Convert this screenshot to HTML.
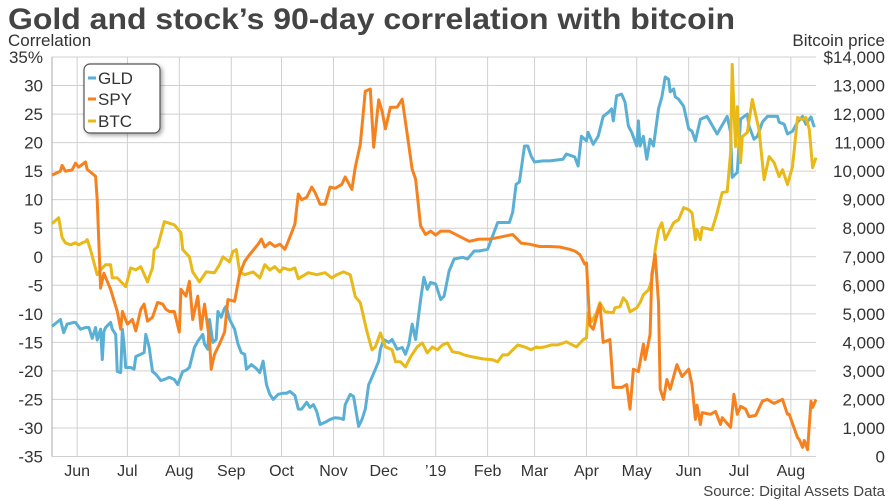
<!DOCTYPE html>
<html><head><meta charset="utf-8"><style>
html,body{margin:0;padding:0;background:#fff}
svg{display:block;font-family:"Liberation Sans",sans-serif}
</style></head><body>
<svg id="chart" width="890" height="501" viewBox="0 0 890 501">
<text x="8" y="29" font-size="30" font-weight="bold" fill="#444" textLength="727" lengthAdjust="spacingAndGlyphs">Gold and stock’s 90-day correlation with bitcoin</text>
<text x="8" y="46" font-size="17" fill="#333">Correlation</text>
<text x="885" y="46" font-size="17" fill="#333" text-anchor="end">Bitcoin price</text>
<text x="885" y="496" font-size="15" fill="#444" text-anchor="end">Source: Digital Assets Data</text>
<g id="grid"></g><g id="axes"></g><g id="series"></g>
<g>
<rect x="84" y="64" width="76" height="69" rx="6" fill="#fff" stroke="#555" stroke-width="1.2" style="filter:drop-shadow(2px 2px 2px rgba(0,0,0,0.35))"/>
<g><line x1="88" y1="78" x2="96" y2="78" stroke="#5aafd4" stroke-width="3"/><text x="98" y="84" font-size="17" fill="#333">GLD</text></g>
<g><line x1="88" y1="99" x2="96" y2="99" stroke="#f5821f" stroke-width="3"/><text x="98" y="105" font-size="17" fill="#333">SPY</text></g>
<g><line x1="88" y1="121" x2="96" y2="121" stroke="#e8b917" stroke-width="3"/><text x="98" y="127" font-size="17" fill="#333">BTC</text></g>
</g>
</svg>
<script>
const leftTicks = [35,30,25,20,15,10,5,0,-5,-10,-15,-20,-25,-30,-35];
const leftTickLabels = ["35%","30","25","20","15","10","5","0","-5","-10","-15","-20","-25","-30","-35"];
const rightTicks = [14000,13000,12000,11000,10000,9000,8000,7000,6000,5000,4000,3000,2000,1000,0];
const rightTickLabels = ["$14,000","13,000","12,000","11,000","10,000","9,000","8,000","7,000","6,000","5,000","4,000","3,000","2,000","1,000","0"];
const monthDays = [15,45,76,107,137,168,198,229,260,288,319,349,380,410,441];
const monthLabels = ["Jun","Jul","Aug","Sep","Oct","Nov","Dec","’19","Feb","Mar","Apr","May","Jun","Jul","Aug"];

const spyDays = [0,5,6,8,12,14,16,20,21,26,27,29,31,35,39,41,42,45,48,50,53,55,57,60,63,66,68,70,73,76,77,80,82,84,87,89,91,94,95,97,100,103,105,109,112,115,118,123,125,127,130,133,136,139,141,145,147,149,152,155,157,160,163,166,169,173,175,179,181,184,187,190,192,195,197,199,202,206,209,212,215,217,220,223,226,229,232,237,243,249,255,261,267,275,280,285,291,297,303,309,312,315,318,319,321,323,327,329,333,335,340,343,345,347,350,353,354,357,358,360,362,363,365,367,369,373,376,380,382,384,385,387,388,393,396,399,400,405,407,409,411,414,416,420,424,427,431,436,439,440,445,446,448,449,451,453,454,456];
const spyValues = [14.3,15,16,15,15.2,16.4,15.7,16.6,15.3,14.1,10,-5.5,-2.9,-5.7,-9.6,-12.7,-9.6,-11.8,-11,-13,-9.2,-8.3,-11.3,-10.6,-8,-8.3,-9.2,-9.6,-9.6,-13.2,-5.7,-6.9,-4.3,-11,-6.9,-12.7,-8.3,-14.5,-19.7,-17.1,-15.3,-13.2,-7.5,-7.8,-3.1,-0.8,0.4,2.2,3.1,1.7,2.5,1.8,2.2,1.3,2.7,5.7,11,10,10.4,12.2,11.3,9.2,9.2,12.2,12,12.7,14,11.8,15.7,19.7,29,29.4,19.2,27.5,25.5,22.4,26.2,26.2,27.6,21.5,15.3,13.6,5.4,3.9,4.5,3.8,4.5,4.5,3.6,2.7,3.1,3.1,3.4,3.9,2.4,2.2,1.8,1.8,1.7,1.3,1,0.4,-1.3,-1.1,-12,-12.7,-8.3,-15,-14.5,-22.9,-22.9,-22.4,-26.7,-19.7,-20.1,-15.3,-18,-13.6,-3.1,0.4,-8,-23.2,-25,-21.5,-23.2,-18.9,-21,-19.7,-22.4,-28.5,-26,-29.4,-27.3,-27.6,-27.1,-29.4,-28.2,-29.9,-24.1,-27.6,-26.2,-26.7,-28,-27.8,-25.3,-25,-25.7,-25,-27.6,-27.6,-31.7,-32,-33.4,-32.2,-33.8,-25.3,-26.4,-25];

const gldDays = [0,5,7,9,13,14,17,20,22,24,26,27,29,30,31,32,35,36,38,39,41,42,43,44,47,49,50,53,55,56,58,60,62,65,67,70,73,75,78,80,82,85,87,90,91,93,94,96,98,99,101,103,104,106,109,111,113,115,116,119,122,124,126,128,130,132,135,138,140,142,145,147,149,152,154,156,158,160,163,166,169,172,174,175,178,180,183,185,187,189,190,193,195,196,198,201,203,206,209,211,213,215,217,220,222,224,226,229,232,234,237,240,245,248,252,255,260,266,273,275,277,279,282,284,286,288,293,297,305,307,312,314,316,319,320,323,326,329,332,334,335,337,340,342,344,346,349,350,351,353,355,357,359,362,364,366,368,369,371,372,374,377,380,382,384,387,391,397,403,405,406,409,411,415,416,419,421,424,427,433,434,437,439,442,445,448,450,453,455];
const gldValues = [-12.2,-11,-13.3,-11.8,-11.5,-11.5,-12.7,-12.4,-12.4,-14.3,-12.4,-14.6,-12.7,-18,-13.1,-12.4,-11.5,-12.7,-13.6,-20.1,-20.3,-12.7,-15.3,-19.4,-19.4,-19.7,-17.5,-17.1,-16.8,-13.6,-15.9,-20.1,-20.6,-21.7,-21.5,-21.1,-21.5,-22.4,-20.1,-19.9,-19.4,-15.9,-14.8,-13.6,-15.3,-16.2,-11,-15,-14.5,-9.6,-10.6,-9,-8.7,-11,-12.7,-15.3,-16.8,-17.1,-19.7,-18.9,-19.6,-20.3,-18.3,-22.4,-24.1,-25,-24.1,-23.9,-23.9,-23.6,-24.3,-26.7,-26.7,-25.5,-26.4,-25.9,-27.1,-29.4,-29,-28.5,-28.2,-28.3,-28.5,-25.9,-24.1,-24.5,-29.7,-28.5,-26.7,-22.4,-21.8,-19.7,-18.3,-16.2,-14.5,-15,-14.5,-16.2,-15.9,-17.1,-15.3,-11.8,-14.5,-7.5,-3.6,-5.7,-4.5,-4.8,-7.5,-6.9,-2.5,-0.4,-0.1,-0.4,1,1,1.3,6,6,7.8,12.7,13.1,19.4,19.4,17.6,16.6,16.8,16.8,17.1,18,17.5,15.9,21.1,20.3,21.8,19.7,21.1,24.6,25.3,25.9,23.8,28.2,28.5,27.1,22.9,21.8,19.4,23.8,19.4,21.1,17.1,20.6,19.4,25.9,28,31.5,31.1,28.9,29.4,28,27.6,26.4,22.4,22,20.3,24.1,24.6,21.5,24.6,21.8,13.9,14.8,24.1,25,22.9,20.6,21.1,23.6,24.6,24.6,23.6,23.2,21.5,22,23.6,24.6,23.2,24.5,22.7];

const btcDays = [0,4,6,8,11,14,16,18,20,21,23,27,29,32,35,36,39,44,47,50,53,57,60,61,63,67,73,77,78,82,84,88,92,97,100,102,106,108,110,112,115,120,124,127,130,133,136,138,142,145,147,153,158,163,167,170,174,178,181,184,188,191,193,196,199,203,205,208,211,214,218,221,224,227,230,233,236,239,243,246,251,257,263,266,269,272,278,282,286,289,291,294,298,302,307,313,317,319,320,322,325,327,330,335,336,339,341,343,345,349,351,353,356,358,360,362,364,366,369,371,374,377,380,382,384,385,387,388,394,397,400,403,405,406,407,408,409,411,412,415,418,421,422,425,428,431,434,436,439,442,445,448,450,452,454,456];
const btcValues = [8160,8370,7670,7490,7420,7490,7420,7490,7530,7600,7250,6370,6540,6720,6720,6260,6260,5950,6610,6540,6650,6120,6610,7250,7350,8230,8120,7840,7250,7000,6470,6120,6470,6440,6720,7000,6820,7180,7250,6470,6370,6470,6260,6720,6540,6650,6470,6610,6540,6610,6230,6440,6370,6440,6260,6370,6470,6370,5600,5390,4370,3740,3840,4330,3840,3740,3320,3320,3140,3490,3840,3980,3630,3840,3740,3910,3980,3670,3630,3560,3490,3420,3390,3320,3560,3560,3910,3840,3740,3840,3810,3840,3910,3910,4020,3840,4090,4160,5040,4720,5040,5390,5070,5040,5210,5250,5560,5420,5070,5210,5390,5670,5840,6190,7250,7950,8190,7600,7950,8190,8300,8720,8650,8540,7600,7950,7600,8020,7950,8540,9250,9280,10650,13740,12160,10860,12260,10300,11210,11350,12510,11700,11460,9700,10510,10300,9810,10050,9530,10160,11880,11810,11880,11460,10120,10470];

const NS = "http://www.w3.org/2000/svg";
const X0 = 52, X1 = 816, Y0 = 57, Y1 = 456.5, DMAX = 456;
function xScale(d){ return X0 + d*(X1-X0)/DMAX; }
function yLeft(v){ return Y1 - (v+35)*(Y1-Y0)/70; }
function yRight(p){ return Y1 - p*(Y1-Y0)/14000; }
function mk(tag, attrs, parent){ const e=document.createElementNS(NS,tag); for(const k in attrs) e.setAttribute(k,attrs[k]); parent.appendChild(e); return e; }

const grid = document.getElementById('grid');
const axes = document.getElementById('axes');
leftTicks.forEach((t,i)=>{
  const y = yLeft(t);
  const gl = mk('line',{x1:X0,x2:X1,y1:y,y2:y,stroke:'#d0d0d0','stroke-width':1},grid);
  
  
  const lt = mk('text',{x:43,y:y+6,'font-size':17,fill:'#333','text-anchor':'end'},axes);
  lt.textContent = leftTickLabels[i];
  
  
});
rightTicks.forEach((t,i)=>{
  const y = yRight(t);
  const rt = mk('text',{x:885,y:y+6,'font-size':17,fill:'#333','text-anchor':'end'},axes);
  rt.textContent = rightTickLabels[i];
  
  
});
monthDays.forEach((d,i)=>{
  const x = xScale(d);
  const vl = mk('line',{x1:x,x2:x,y1:Y0,y2:Y1,stroke:'#d0d0d0','stroke-width':1},grid);
  
  
  const mt = mk('text',{x:x,y:476,'font-size':16,fill:'#333','text-anchor':'middle'},axes);
  mt.textContent = monthLabels[i];
  
  
});
const ax = mk('line',{x1:X0,x2:X0,y1:Y0,y2:Y1,stroke:'#aaa','stroke-width':1},axes);



const series = document.getElementById('series');
function drawLine(days, vals, yf, color, name){
  const pts = days.map((d,i)=>xScale(d).toFixed(1)+','+yf(vals[i]).toFixed(1)).join(' ');
  const pl = mk('polyline',{points:pts,fill:'none',stroke:color,'stroke-width':3,'stroke-linejoin':'round'},series);
  
  
}
drawLine(gldDays, gldValues, yLeft, '#5aafd4', 'gld-line');
drawLine(btcDays, btcValues, yRight, '#e8b917', 'btc-line');
drawLine(spyDays, spyValues, yLeft, '#f5821f', 'spy-line');
</script>
</body></html>
